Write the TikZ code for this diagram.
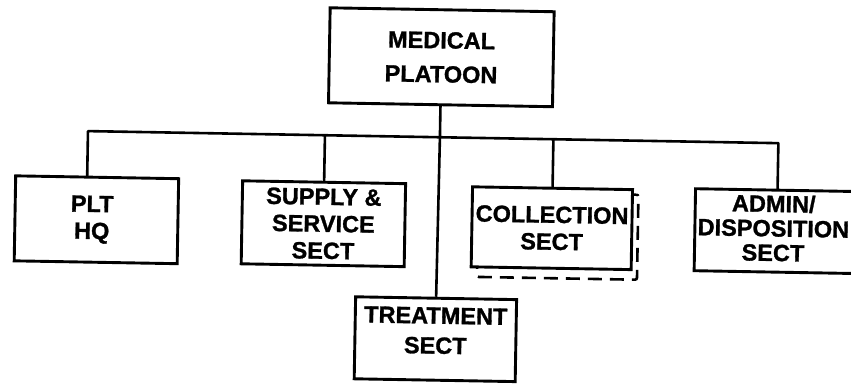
\documentclass[tikz,border=0pt]{standalone}
\usepackage{fontspec}
\setmainfont{Liberation Sans}[BoldFeatures={FakeBold=1.2}]
\begin{document}
\begin{tikzpicture}[x=1pt,y=-1pt,
  lbl/.style={font=\fontsize{23.5}{27}\selectfont\bfseries},
  box/.style={draw, line width=2.9pt, fill=white, align=center, inner sep=0pt, lbl},
  txt/.style={align=center, inner sep=0pt, lbl},
  shadowbox/.style={draw, line width=2.6pt, dash pattern=on 14pt off 8pt, rounded corners=2pt, inner sep=0pt},
  conn/.style={line width=2.6pt, line join=round}]
\clip (0,0) rectangle (851,385);
\fill[white] (0,0) rectangle (851,385);
\begin{scope}[rotate around={-1:(425,190)}, transform shape]
  % bus points
  \coordinate (bL) at (87,137);
  \coordinate (bS) at (324,137);
  \coordinate (bM) at (439,137);
  \coordinate (bC) at (552.5,137);
  \coordinate (bR) at (777.5,137);
  \coordinate (pltIn) at (87,183);
  \coordinate (admIn) at (777.5,184);
  % boxes
  \node[box, minimum width=224, minimum height=95,
        font=\fontsize{23.5}{34}\selectfont\bfseries] (med) at (439,57) {MEDICAL\\PLATOON};
  \node[box, minimum width=163, minimum height=85] (plt) at (97,225.5) {\hspace*{-9pt}PLT\\\hspace*{-9pt}HQ};
  \node[box, minimum width=163, minimum height=83] (sup) at (324,225.5) {SUPPLY \&\\SERVICE\\SECT};
  \node[shadowbox, minimum width=160, minimum height=85] (colsh) at (558.5,233.5) {};
  \node[box, minimum width=160, minimum height=80] (col) at (552.5,226) {COLLECTION\\SECT};
  \node[box, minimum width=175, minimum height=82] (adm) at (783,225) {};
  \node[txt, font=\fontsize{23.5}{24.5}\selectfont\bfseries] (admText) at (774,222) {ADMIN/\\DISPOSITION\\SECT};
  \node[box, minimum width=161, minimum height=82] (trt) at (438,339) {};
  \node[txt, font=\fontsize{23.5}{30}\selectfont\bfseries] (trtText) at (438,330.5) {TREATMENT\\SECT};
  % connectors
  \draw[conn] (pltIn) -- (bL) -- (bR) -- (admIn);
  \draw[conn] (med.south) -- (bM);
  \draw[conn] (bM) -- (trt.north);
  \draw[conn] (bS) -- (sup.north);
  \draw[conn] (bC) -- (col.north);
\end{scope}
\end{tikzpicture}
\end{document}
